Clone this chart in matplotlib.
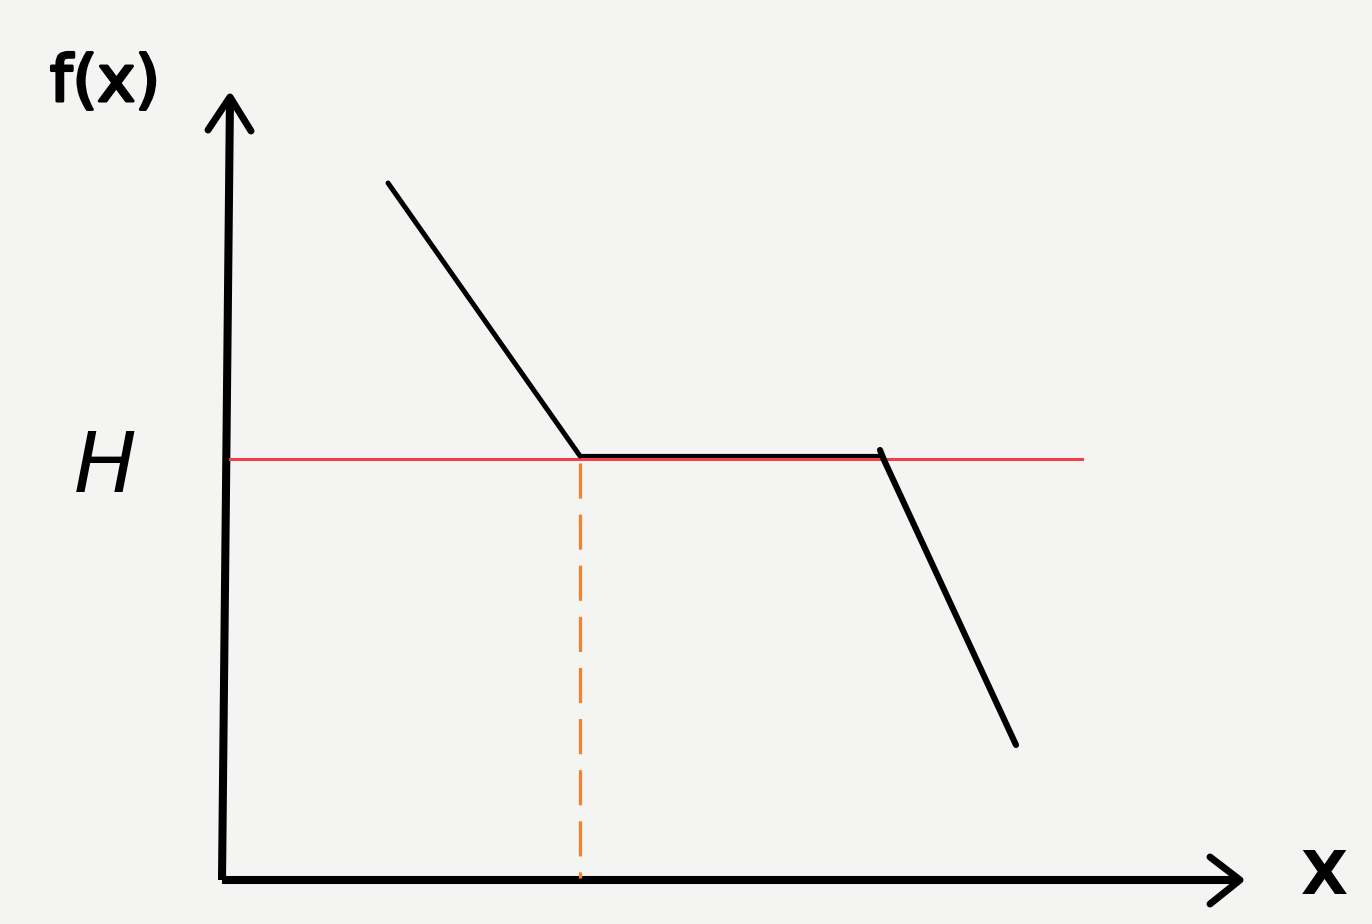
import matplotlib
matplotlib.use("Agg")
import matplotlib.pyplot as plt
import matplotlib.patheffects as pe

# Data (sketch units: origin at the axes corner)
curve1_x = [1.66, 3.58]
curve1_y = [6.97, 4.24]
flat_x = [3.58, 6.58]
flat_y = [4.24, 4.24]
curve2_x = [6.58, 6.62, 7.94]
curve2_y = [4.30, 4.20, 1.35]
H_level = 4.21
H_span = [0.08, 8.60]
x_star = 3.58

yaxis_x = [0.0, 0.08]
yaxis_y = [0.0, 7.83]
xaxis_x = [0.0, 10.18]
xaxis_y = [0.0, 0.0]

fig = plt.figure(figsize=(13.72, 9.24), dpi=100)
fig.patch.set_facecolor("#f4f4f2")
ax = fig.add_axes([0, 0, 1, 1])
ax.set_facecolor("#f4f4f2")
ax.set_xlim(-2.22, 11.50)
ax.set_ylim(-0.44, 8.80)
ax.axis("off")

axis_kw = dict(color="black", lw=5.8, solid_capstyle="butt", solid_joinstyle="miter")
ax.plot(yaxis_x, yaxis_y, **axis_kw)
ax.plot(xaxis_x, xaxis_y, **axis_kw)

# arrowheads (open chevrons)
tip = (yaxis_x[1], yaxis_y[1])
ax.plot([tip[0] - 0.22, tip[0], tip[0] + 0.21], [tip[1] - 0.33, tip[1], tip[1] - 0.34],
        color="black", lw=5.0, solid_capstyle="round", solid_joinstyle="round")
tip = (xaxis_x[1], xaxis_y[1])
ax.plot([tip[0] - 0.30, tip[0], tip[0] - 0.30], [tip[1] + 0.23, tip[1], tip[1] - 0.24],
        color="black", lw=5.0, solid_capstyle="round", solid_joinstyle="round")

# red H line
ax.plot(H_span, [H_level, H_level], color="#f0404a", lw=2.2, zorder=3)
# function pieces
ax.plot(curve1_x, curve1_y, color="black", lw=3.6, solid_capstyle="round", zorder=4)
ax.plot(flat_x, flat_y, color="black", lw=3.0, solid_capstyle="round", zorder=2)
ax.plot(curve2_x, curve2_y, color="black", lw=4.4, solid_capstyle="round", zorder=4)
# orange dashed drop line
ax.plot([x_star, x_star], [H_level - 0.04, 0.02], color="#f5822a", lw=2.3,
        dashes=(11, 5), zorder=2)

# labels
ax.text(-1.17, 7.97, "f(x)", fontsize=46, family="DejaVu Sans", fontweight="normal",
        ha="center", va="center",
        path_effects=[pe.withStroke(linewidth=2.2, foreground="black")])
ax.text(-1.17, 4.12, "H", fontsize=60, family="DejaVu Sans", style="italic",
        fontweight="light", ha="center", va="center")
ax.text(11.02, 0.02, "X", fontsize=44, family="DejaVu Sans", fontweight="bold",
        ha="center", va="center")

fig.savefig("out.png", dpi=100, facecolor=fig.get_facecolor())
